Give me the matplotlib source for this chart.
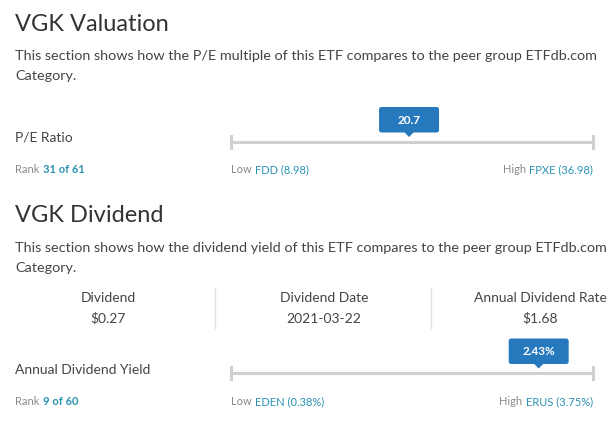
import matplotlib
matplotlib.use("Agg")
import matplotlib.pyplot as plt
from matplotlib.patches import FancyBboxPatch, Polygon

ticker = "VGK"
pe_value = 20.7
pe_rank = 31
pe_count = 61
pe_low_name, pe_low_val = "FDD", 8.98
pe_high_name, pe_high_val = "FPXE", 36.98

div_labels = ["Dividend", "Dividend Date", "Annual Dividend Rate"]
div_values = ["$0.27", "2021-03-22", "$1.68"]

yield_value = 2.43
yield_rank = 9
yield_count = 60
yield_low_name, yield_low_val = "EDEN", 0.38
yield_high_name, yield_high_val = "ERUS", 3.75

# colours
DARK = "#333333"
TEXT = "#444444"
GREY = "#8a8a8a"
TEAL = "#2a93b3"
BLUE = "#2779bd"
LINE = "#d0d0d0"

plt.rcParams["font.family"] = ["Lato", "DejaVu Sans"]

fig = plt.figure(figsize=(6.15, 4.25), dpi=100)
ax = fig.add_axes([0, 0, 1, 1])
ax.set_xlim(0, 615)
ax.set_ylim(425, 0)
ax.axis("off")
renderer = fig.canvas.get_renderer()


def runs(x, y, parts, size, ha="left"):
    # draw consecutive text pieces with different colours
    if ha == "right":
        parts = parts[::-1]
    for txt, col, wt in parts:
        t = ax.text(x, y, txt, color=col, fontsize=size, fontweight=wt,
                    ha=ha, va="baseline")
        bb = t.get_window_extent(renderer)
        w = bb.width + 3.5
        x = x + w if ha == "left" else x - w


def scale_row(y_line, label, value_txt, rank, count, low, high, label_y, rank_y):
    x0, x1 = 231, 593
    ax.text(15, label_y, label, color=TEXT, fontsize=10, va="baseline")
    ax.plot([x0, x1], [y_line, y_line], color=LINE, lw=2.2, solid_capstyle="butt")
    for xe in (x0, x1):
        ax.plot([xe, xe], [y_line - 6, y_line + 6], color=LINE, lw=2.2)
    xm = x0 + (count - rank) / count * (x1 - x0)
    bw, bh = 60, 25.5
    ytop = y_line - 34.5
    box = FancyBboxPatch((xm - bw / 2, ytop), bw, bh,
                         boxstyle="round,pad=0,rounding_size=2.5",
                         fc=BLUE, ec="none")
    ax.add_patch(box)
    ax.add_patch(Polygon([[xm - 5, ytop + bh - 0.5], [xm + 5, ytop + bh - 0.5],
                          [xm, ytop + bh + 4.5]], closed=True, fc=BLUE, ec="none"))
    ax.text(xm, ytop + bh / 2 + 0.5, value_txt, color="white", fontsize=8.5,
            fontweight="bold", ha="center", va="center")
    runs(15, rank_y, [("Rank", GREY, "normal"),
                      (f"{rank} of {count}", TEAL, "bold")], 8)
    runs(x0, rank_y, [("Low", GREY, "normal"), (low, TEAL, "normal")], 8)
    runs(x1, rank_y, [("High", GREY, "normal"), (high, TEAL, "normal")], 8,
         ha="right")


desc = "This section shows how the {} of this ETF compares to the peer group ETFdb.com"

# valuation section
ax.text(15, 30.5, f"{ticker} Valuation", color=DARK, fontsize=17, va="baseline")
ax.text(15, 60, desc.format("P/E multiple"), color=TEXT, fontsize=10.4, va="baseline")
ax.text(15, 80, "Category.", color=TEXT, fontsize=10.4, va="baseline")
scale_row(141.5, "P/E Ratio", f"{pe_value}", pe_rank, pe_count,
          f"{pe_low_name} ({pe_low_val})", f"{pe_high_name} ({pe_high_val})",
          142, 173)

# dividend section
ax.text(15, 222, f"{ticker} Dividend", color=DARK, fontsize=17, va="baseline")
ax.text(15, 252, desc.format("dividend yield"), color=TEXT, fontsize=10.4, va="baseline")
ax.text(15, 272, "Category.", color=TEXT, fontsize=10.4, va="baseline")

col_w = 216
for i, (lab, val) in enumerate(zip(div_labels, div_values)):
    cx = col_w * i + col_w / 2
    ax.text(cx, 302, lab, color=TEXT, fontsize=10, ha="center", va="baseline")
    ax.text(cx, 323, val, color=TEXT, fontsize=10, ha="center", va="baseline")
    if i > 0:
        xs = col_w * i - 1.5
        ax.plot([xs, xs], [288, 328], color="#e0e0e0", lw=1)

scale_row(373, "Annual Dividend Yield", f"{yield_value}%", yield_rank, yield_count,
          f"{yield_low_name} ({yield_low_val}%)", f"{yield_high_name} ({yield_high_val}%)",
          374, 405)

fig.savefig("out.png", dpi=100)
